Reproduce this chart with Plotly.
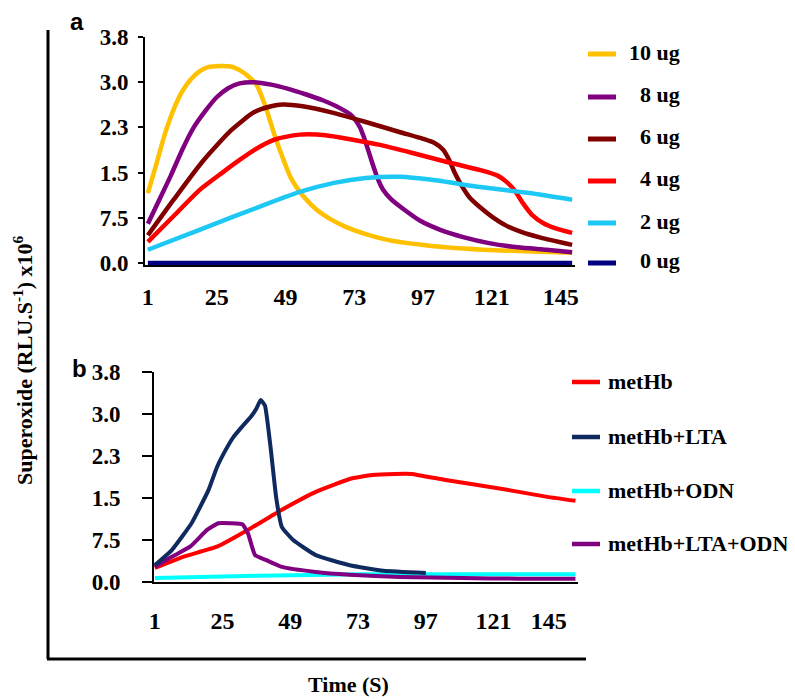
import plotly.graph_objects as go

# ---------------- data ----------------
# Panel a: dose series (time in s, superoxide value)
t_10ug = [1, 4, 7, 10, 13, 16, 19, 22, 26, 30, 33, 36, 39, 42, 45, 48, 51, 55, 60, 65, 70, 77, 85, 95, 105, 118, 130, 149]
v_10ug = [1.16, 1.65, 2.15, 2.55, 2.85, 3.05, 3.18, 3.25, 3.27, 3.26, 3.2, 3.1, 2.95, 2.6, 2.15, 1.75, 1.4, 1.12, 0.88, 0.72, 0.6, 0.48, 0.38, 0.31, 0.26, 0.22, 0.2, 0.17]

t_8ug = [1, 5, 9, 13, 17, 21, 25, 29, 33, 38, 44, 50, 56, 62, 68, 72, 75, 77, 79, 81, 83, 86, 90, 96, 103, 111, 120, 130, 140, 149]
v_8ug = [0.65, 1.05, 1.45, 1.88, 2.25, 2.52, 2.75, 2.9, 2.98, 3.0, 2.96, 2.89, 2.8, 2.7, 2.57, 2.45, 2.25, 2.0, 1.7, 1.42, 1.22, 1.05, 0.9, 0.7, 0.55, 0.43, 0.33, 0.26, 0.22, 0.18]

t_6ug = [1, 10, 20, 30, 38, 44, 48, 55, 65, 77, 89, 97, 101, 104, 106, 108, 110, 113, 117, 121, 126, 131, 138, 149]
v_6ug = [0.46, 1.05, 1.68, 2.2, 2.5, 2.6, 2.63, 2.6, 2.5, 2.34, 2.17, 2.06, 1.99, 1.88, 1.72, 1.5, 1.32, 1.1, 0.92, 0.77, 0.62, 0.52, 0.42, 0.3]

t_4ug = [1, 10, 19, 27, 33, 40, 46, 54, 63, 72, 82, 93, 105, 117, 123, 126, 129, 132, 135, 139, 143, 149]
v_4ug = [0.35, 0.78, 1.21, 1.5, 1.71, 1.93, 2.06, 2.13, 2.12, 2.05, 1.96, 1.83, 1.68, 1.54, 1.45, 1.35, 1.2, 0.98, 0.8, 0.66, 0.58, 0.5]

t_2ug = [1, 19, 43, 54, 66, 77, 89, 100, 117, 134, 149]
v_2ug = [0.22, 0.55, 0.99, 1.18, 1.33, 1.41, 1.43, 1.38, 1.26, 1.16, 1.05]

t_0ug = [1, 149]
v_0ug = [0.0, 0.0]

# Panel b: treatments
t_methb = [1, 11, 23, 35, 46, 58, 70, 78, 86, 92, 104, 122, 140, 150]
v_methb = [0.25, 0.45, 0.63, 0.96, 1.29, 1.61, 1.84, 1.91, 1.93, 1.93, 1.82, 1.68, 1.52, 1.45]

t_lta = [1, 7, 14, 20, 23, 26, 29, 32, 35, 37, 38.5, 40, 42, 44, 46, 50, 58, 70, 82, 97]
v_lta = [0.3, 0.57, 1.05, 1.64, 2.05, 2.35, 2.6, 2.78, 2.95, 3.1, 3.25, 3.15, 2.4, 1.5, 0.98, 0.75, 0.48, 0.3, 0.2, 0.16]

t_odn = [1, 25, 50, 75, 100, 125, 150]
v_odn = [0.07, 0.1, 0.12, 0.14, 0.14, 0.14, 0.14]

t_lta_odn = [1, 7, 13.5, 19.5, 23.5, 28, 32, 34, 36.5, 40.5, 46, 58, 70, 88, 110, 130, 150]
v_lta_odn = [0.27, 0.45, 0.63, 0.93, 1.05, 1.05, 1.03, 0.87, 0.48, 0.39, 0.27, 0.18, 0.13, 0.09, 0.07, 0.06, 0.06]

y_tickvals = [0, 0.75, 1.5, 2.25, 3.0, 3.75]
y_ticktext = ["0.0", "7.5", "1.5", "2.3", "3.0", "3.8"]
x_tickvals_a = [1, 25, 49, 73, 97, 121, 145]
x_tickvals_b = [1, 25, 49, 73, 97, 121, 140.5]   # last label sits left of its slot in the source
x_ticktext = ["1", "25", "49", "73", "97", "121", "145"]

labels_a = ["10 ug", "8 ug", "6 ug", "4 ug", "2 ug", "0 ug"]
colors_a = ["#FFC000", "#800080", "#800000", "#FF0000", "#1EC8F5", "#000080"]
series_a = [(t_10ug, v_10ug), (t_8ug, v_8ug), (t_6ug, v_6ug), (t_4ug, v_4ug), (t_2ug, v_2ug), (t_0ug, v_0ug)]

labels_b = ["metHb", "metHb+LTA", "metHb+ODN", "metHb+LTA+ODN"]
colors_b = ["#FF0000", "#0F2A5E", "#00FFFF", "#800080"]
series_b = [(t_methb, v_methb), (t_lta, v_lta), (t_odn, v_odn), (t_lta_odn, v_lta_odn)]
draw_order_b = [2, 0, 3, 1]

# ---------------- figure ----------------
# page has an 8px body margin: figure is 787x692 and coordinates below are page pixels
OFF = 8
W, H = 795 - OFF, 700 - OFF
SERIF = "Liberation Serif, Times New Roman, serif"
fig = go.Figure()

def px(x):
    return (x - OFF) / W

def py(y):
    return 1 - (y - OFF) / H

for (t, v), c, name in zip(series_a, colors_a, labels_a):
    fig.add_trace(go.Scatter(x=t, y=v, mode="lines", name=name, xaxis="x", yaxis="y",
                             line=dict(color=c, width=4.5, shape="spline", smoothing=0.6),
                             showlegend=False))

for i in draw_order_b:
    (t, v) = series_b[i]
    fig.add_trace(go.Scatter(x=t, y=v, mode="lines", name=labels_b[i], xaxis="x2", yaxis="y2",
                             line=dict(color=colors_b[i], width=4, shape="spline", smoothing=0.4),
                             showlegend=False))

xtick_font = dict(family=SERIF, size=24, color="black", weight="bold")
ytick_font = dict(family=SERIF, size=23, color="black", weight="bold")

common_x = dict(ticktext=x_ticktext, showgrid=False, zeroline=False,
                showline=True, linecolor="black", linewidth=2, ticks="", tickfont=xtick_font,
                automargin=False)
common_y = dict(tickvals=y_tickvals, ticktext=y_ticktext, showgrid=False, zeroline=False,
                showline=True, linecolor="black", linewidth=2, ticks="outside",
                tickcolor="black", tickwidth=2, tickfont=ytick_font, automargin=False)

fig.update_layout(
    template="none",
    width=W, height=H, margin=dict(l=0, r=0, t=0, b=0, pad=0, autoexpand=False),
    paper_bgcolor="white", plot_bgcolor="white", showlegend=False,
    xaxis=dict(common_x, tickvals=x_tickvals_a, domain=[px(145), px(575)], range=[0, 150],
               anchor="y", ticklabelstandoff=9),
    yaxis=dict(common_y, domain=[py(265.4), py(37)], range=[-0.04, 3.75], anchor="x",
               ticklen=5, ticklabelstandoff=5),
    xaxis2=dict(common_x, tickvals=x_tickvals_b, domain=[px(154), px(578)], range=[0.7, 150.9],
                anchor="y2", ticklabelstandoff=16),
    yaxis2=dict(common_y, domain=[py(582), py(372)], range=[0, 3.75], anchor="x2",
                ticklen=10, ticklabelstandoff=17),
)

shapes = []
annotations = []

# outer frame
shapes.append(dict(type="line", xref="paper", yref="paper", x0=px(48), x1=px(48), y0=py(30), y1=py(659),
                   line=dict(color="black", width=3)))
shapes.append(dict(type="line", xref="paper", yref="paper", x0=px(47), x1=px(586), y0=py(659), y1=py(659),
                   line=dict(color="black", width=3)))

# legend a
leg_a_y = [54, 97, 139, 181, 223, 263]
for lab, c, y in zip(labels_a, colors_a, leg_a_y):
    shapes.append(dict(type="line", xref="paper", yref="paper", x0=px(588), x1=px(616), y0=py(y), y1=py(y),
                       line=dict(color=c, width=5)))
    annotations.append(dict(text=lab, xref="paper", yref="paper", x=px(682), y=py(y - 2),
                            xanchor="right", yanchor="middle", showarrow=False,
                            font=dict(family=SERIF, size=22, color="black", weight="bold")))

# legend b
leg_b_y = [382, 437, 491, 544]
for lab, c, y in zip(labels_b, colors_b, leg_b_y):
    shapes.append(dict(type="line", xref="paper", yref="paper", x0=px(572), x1=px(600), y0=py(y), y1=py(y),
                       line=dict(color=c, width=4.5)))
    annotations.append(dict(text=lab, xref="paper", yref="paper", x=px(606), y=py(y - 1),
                            xanchor="left", yanchor="middle", showarrow=False,
                            font=dict(family=SERIF, size=22, color="black", weight="bold")))

# panel letters
for lab, x, y in [("a", 77, 22), ("b", 79, 368)]:
    annotations.append(dict(text=lab, xref="paper", yref="paper", x=px(x), y=py(y),
                            xanchor="center", yanchor="middle", showarrow=False,
                            font=dict(family="Liberation Sans, Arial, sans-serif", size=24,
                                      color="black", weight="bold")))

# axis titles
annotations.append(dict(text="Time (S)", xref="paper", yref="paper", x=px(348), y=py(684),
                        xanchor="center", yanchor="middle", showarrow=False,
                        font=dict(family=SERIF, size=22, color="black", weight="bold")))
annotations.append(dict(text="Superoxide (RLU.S<sup>-1</sup>) x10<sup>6</sup>", xref="paper", yref="paper",
                        x=px(23), y=py(360), xanchor="center", yanchor="middle", showarrow=False,
                        textangle=-90,
                        font=dict(family=SERIF, size=22, color="black", weight="bold")))

fig.update_layout(shapes=shapes, annotations=annotations)
fig.write_html("out.html")
